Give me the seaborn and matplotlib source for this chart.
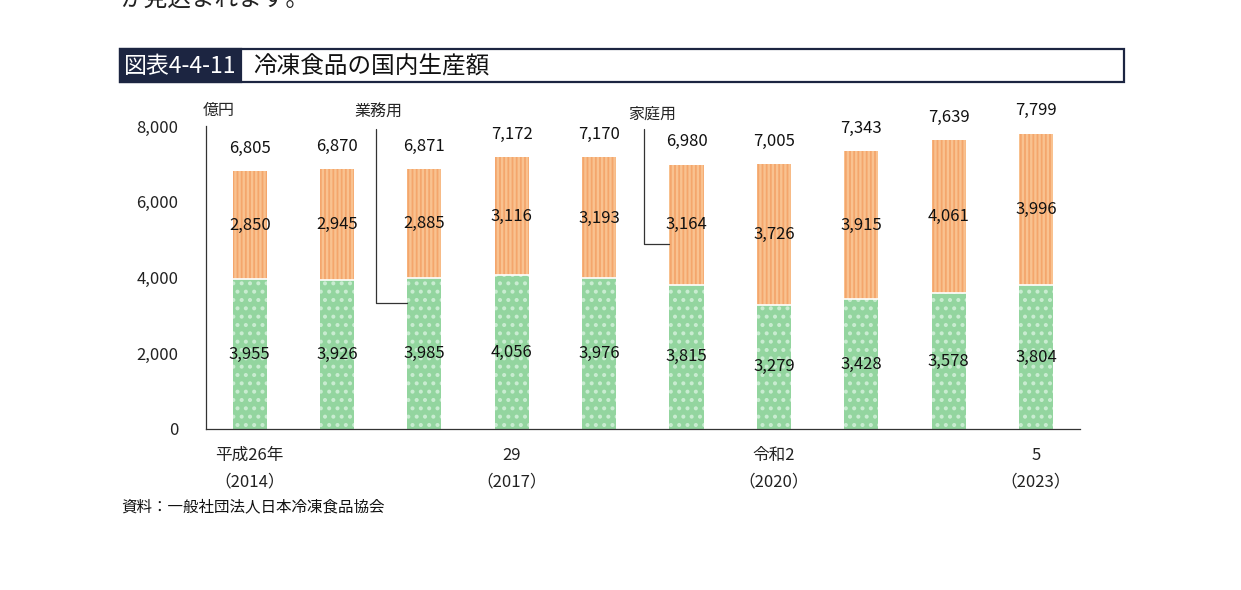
import pandas as pd
import matplotlib.pyplot as plt
import seaborn as sns
from matplotlib.patches import Rectangle

# data (億円)
years = ["2014", "2015", "2016", "2017", "2018", "2019", "2020", "2021", "2022", "2023"]
business = [2850, 2945, 2885, 3116, 3193, 3164, 3726, 3915, 4061, 3996]   # 業務用
household = [3955, 3926, 3985, 4056, 3976, 3815, 3279, 3428, 3578, 3804]  # 家庭用
totals = [6805, 6870, 6871, 7172, 7170, 6980, 7005, 7343, 7639, 7799]
tick_labels = ["平成26年\n（2014）", "", "", "29\n（2017）", "", "",
               "令和2\n（2020）", "", "", "5\n（2023）"]

df = pd.DataFrame({"year": years, "business": business,
                   "household": household, "total": totals})

sns.set_theme(style="white")
plt.rcParams['font.family'] = ['Noto Sans CJK JP', 'DejaVu Sans']
plt.rcParams['hatch.linewidth'] = 1.7

ORANGE = "#f4a66c"
ORANGE_STRIPE = "#f9c290"
GREEN = "#93d59f"
GREEN_DOT = "#c9ecd1"
NAVY = "#1c2541"
BAR_W = 0.39

fig = plt.figure(figsize=(12.41, 5.9), dpi=100)
ax = fig.add_axes([0.166, 0.2729, 0.704, 0.5135])

# total bars (orange part shows above green)
sns.barplot(data=df, x="year", y="total", ax=ax, color=ORANGE, saturation=1,
            width=BAR_W, hatch="||||", edgecolor=ORANGE_STRIPE, linewidth=0)
sns.barplot(data=df, x="year", y="household", ax=ax, color=GREEN, saturation=1,
            width=BAR_W, hatch="..", edgecolor=GREEN_DOT, linewidth=0)
# white separator between segments
ax.hlines(df["household"], [i - BAR_W / 2 for i in range(len(df))],
          [i + BAR_W / 2 for i in range(len(df))], color="white", lw=1.2, zorder=5)

for i, row in df.iterrows():
    ax.text(i, row["household"] / 2, f"{row['household']:,}", ha="center",
            va="center", fontsize=12, color="#111111", zorder=6)
    ax.text(i, row["household"] + row["business"] / 2, f"{row['business']:,}",
            ha="center", va="center", fontsize=12, color="#111111", zorder=6)
    ax.text(i, row["total"] + 600, f"{row['total']:,}", ha="center",
            va="center", fontsize=12, color="#111111")

ax.set_xlim(-0.5, 9.5)
ax.set_ylim(0, 8000)
ax.set_yticks([0, 2000, 4000, 6000, 8000])
ax.set_yticklabels([f"{v:,}" for v in [0, 2000, 4000, 6000, 8000]], fontsize=12)
ax.set_xticks(range(len(years)))
ax.set_xticklabels(tick_labels, fontsize=12)
for t in ax.get_xticklabels():
    t.set_linespacing(1.7)
ax.tick_params(axis="y", direction="in", length=5, width=0.8, pad=20, colors="#222222")
ax.tick_params(axis="x", length=0, pad=13, colors="#222222")
ax.set_xlabel("")
ax.set_ylabel("")
for s in ["top", "right"]:
    ax.spines[s].set_visible(False)
for s in ["left", "bottom"]:
    ax.spines[s].set_color("#333333")
    ax.spines[s].set_linewidth(0.9)

# unit and leader lines
ax.text(-0.36, 8400, "億円", ha="center", va="center", fontsize=11.5, clip_on=False)
ax.text(1.47, 8370, "業務用", ha="center", va="center", fontsize=11.5, clip_on=False)
ax.plot([1.45, 1.45, 2 - BAR_W / 2], [7920, 3320, 3320], color="#333333",
        lw=0.9, clip_on=False)
ax.text(4.61, 8320, "家庭用", ha="center", va="center", fontsize=11.5, clip_on=False)
ax.plot([4.51, 4.51, 5 - BAR_W / 2], [7920, 4890, 4890], color="#333333",
        lw=0.9, clip_on=False)

# title box
fig.patches.append(Rectangle((0.0967, 0.861), 0.809, 0.056, transform=fig.transFigure,
                             facecolor="white", edgecolor=NAVY, lw=1.6))
fig.patches.append(Rectangle((0.0967, 0.861), 0.0975, 0.056, transform=fig.transFigure,
                             facecolor=NAVY, edgecolor=NAVY, lw=1.6))
fig.text(0.1455, 0.888, "図表4-4-11", ha="center", va="center", fontsize=16.5, color="white")
fig.text(0.204, 0.888, "冷凍食品の国内生産額", ha="left", va="center", fontsize=17,
         color="#111111")

# cut-off body text at the top and the source note
fig.text(0.097, 1.002, "が見込まれます。", ha="left", va="center", fontsize=17,
         color="#222222")
fig.text(0.098, 0.141, "資料：一般社団法人日本冷凍食品協会", ha="left", va="center",
         fontsize=11.2, color="#111111")

fig.savefig("out.png", dpi=100)
